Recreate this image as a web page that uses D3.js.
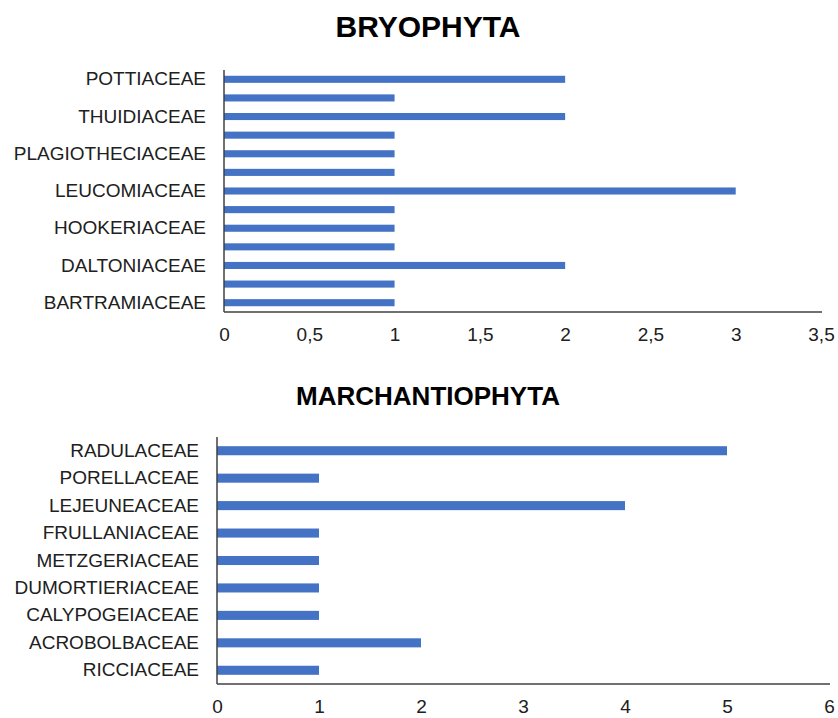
<!DOCTYPE html>
<html>
<head>
<meta charset="utf-8">
<script src="https://cdn.jsdelivr.net/npm/d3@7"></script>
<style>
  body { margin: 0; background: #fff; }
  svg { display: block; font-family: "Liberation Sans", Arial, sans-serif; }
</style>
</head>
<body>
<svg id="chart" width="838" height="718"></svg>
<script>
// bryophyta families, top to bottom (only every other label is shown, like excel does)
const bryoFamilies = ['POTTIACEAE', 'METEORIACEAE', 'THUIDIACEAE', 'SEMATOPHYLLACEAE', 'PLAGIOTHECIACEAE',
  'NECKERACEAE', 'LEUCOMIACEAE', 'HYPNACEAE', 'HOOKERIACEAE', 'FISSIDENTACEAE', 'DALTONIACEAE',
  'BRYACEAE', 'BARTRAMIACEAE'];
const bryoCounts = [2, 1, 2, 1, 1, 1, 3, 1, 1, 1, 2, 1, 1];
const bryoTicks = [0, 0.5, 1, 1.5, 2, 2.5, 3, 3.5];

// marchantiophyta families, top to bottom
const marchFamilies = ['RADULACEAE', 'PORELLACEAE', 'LEJEUNEACEAE', 'FRULLANIACEAE', 'METZGERIACEAE',
  'DUMORTIERIACEAE', 'CALYPOGEIACEAE', 'ACROBOLBACEAE', 'RICCIACEAE'];
const marchCounts = [5, 1, 4, 1, 1, 1, 1, 2, 1];
const marchTicks = [0, 1, 2, 3, 4, 5, 6];

const svg = d3.select('#chart');
const barColor = '#4472C4';
const fmt = v => String(v).replace('.', ',');

function drawPanel(opt) {
  const g = svg.append('g');

  const x = d3.scaleLinear()
    .domain([0, d3.max(opt.ticks)])
    .range([opt.left, opt.right]);

  const y = d3.scaleBand()
    .domain(opt.names)
    .range([opt.top, opt.bottom])
    .paddingInner(opt.pad)
    .paddingOuter(opt.pad / 2);

  // title
  g.append('text')
    .attr('x', opt.titleX)
    .attr('y', opt.titleY)
    .attr('text-anchor', 'middle')
    .attr('font-size', opt.titleSize)
    .attr('font-weight', 'bold')
    .attr('fill', '#000')
    .text(opt.title);

  // bars
  g.selectAll('rect')
    .data(opt.names.map((n, i) => ({ name: n, value: opt.values[i] })))
    .enter()
    .append('rect')
    .attr('x', x(0))
    .attr('y', d => y(d.name))
    .attr('width', d => x(d.value) - x(0))
    .attr('height', y.bandwidth())
    .attr('fill', barColor);

  // y axis
  const yAxis = d3.axisLeft(y)
    .tickSize(0)
    .tickPadding(18)
    .tickFormat((d, i) => (i % opt.labelEvery === 0 ? d : ''));
  const ya = g.append('g')
    .attr('transform', `translate(${x(0)},0)`)
    .call(yAxis);
  ya.select('.domain').attr('stroke', '#404040').attr('stroke-width', 1.5)
    .attr('d', `M0,${opt.top}V${opt.bottom}`);
  ya.selectAll('text').attr('font-size', 19).attr('fill', '#202020')
    .attr('font-family', '"Liberation Sans", Arial, sans-serif');

  // x axis
  const xAxis = d3.axisBottom(x)
    .tickValues(opt.ticks)
    .tickSize(0)
    .tickPadding(16)
    .tickFormat(fmt);
  const xa = g.append('g')
    .attr('transform', `translate(0,${opt.bottom})`)
    .call(xAxis);
  xa.select('.domain').attr('stroke', '#404040').attr('stroke-width', 1.5)
    .attr('d', `M${x(0)},0H${opt.axisEnd}`);
  xa.selectAll('text').attr('font-size', 19).attr('fill', '#202020')
    .attr('font-family', '"Liberation Sans", Arial, sans-serif');
}

drawPanel({
  title: 'BRYOPHYTA', titleX: 428, titleY: 37, titleSize: 30,
  names: bryoFamilies, values: bryoCounts, ticks: bryoTicks,
  left: 224, right: 821, axisEnd: 822, top: 70, bottom: 312, pad: 0.62, labelEvery: 2
});

drawPanel({
  title: 'MARCHANTIOPHYTA', titleX: 428, titleY: 405, titleSize: 26,
  names: marchFamilies, values: marchCounts, ticks: marchTicks,
  left: 217, right: 829, axisEnd: 830, top: 437, bottom: 684, pad: 0.67, labelEvery: 1
});
</script>
</body>
</html>
